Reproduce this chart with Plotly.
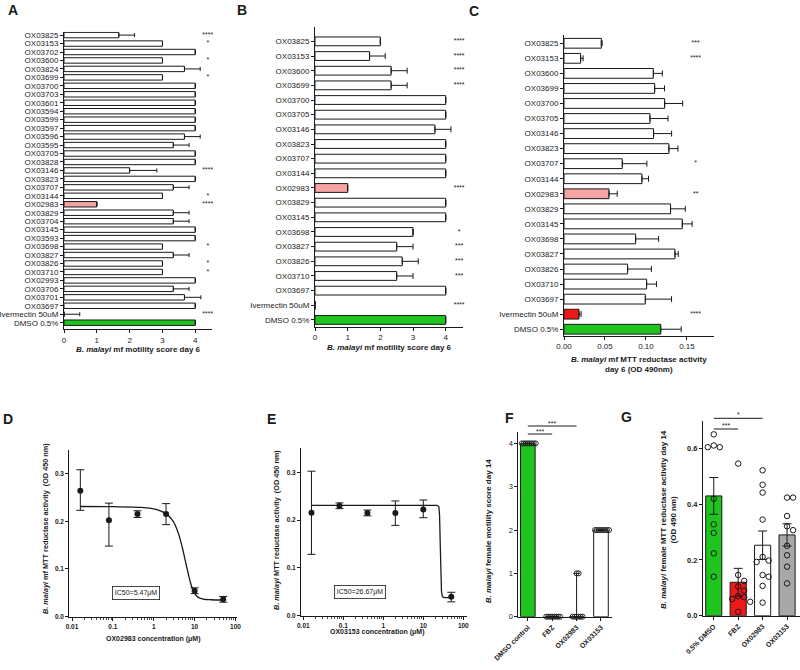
import plotly.graph_objects as go

W, H = 800, 670
FONT = "Liberation Sans, Arial, Helvetica, sans-serif"
INK = "#1a1a1a"
GREEN = "#1fc41f"
PINK = "#f5a3a3"
RED = "#f01818"
GRAY = "#a8a8a8"
WHITE = "#ffffff"

# ---------------- Panel A : mf motility score, day 6 ----------------
A_names = ["OX03825", "OX03153", "OX03702", "OX03600", "OX03824", "OX03699", "OX03700",
           "OX03703", "OX03601", "OX03594", "OX03599", "OX03597", "OX03596", "OX03595",
           "OX03705", "OX03828", "OX03146", "OX03823", "OX03707", "OX03144", "OX02983",
           "OX03829", "OX03704", "OX03145", "OX03593", "OX03698", "OX03827", "OX03826",
           "OX03710", "OX02993", "OX03706", "OX03701", "OX03697", "Ivermectin 50uM", "DMSO 0.5%"]
A_score = [1.67, 3, 4, 3, 3.67, 3, 4, 4, 4, 4, 4, 4, 3.67, 3.33, 4, 4, 2.0, 4, 3.33, 3, 1.0,
           3.33, 3.33, 4, 4, 3, 3.33, 3, 3, 4, 3.33, 3.67, 4, 0, 4]
A_err = [0.48, None, None, None, 0.48, None, None, None, None, None, None, None, 0.48, 0.48,
         None, None, 0.83, None, 0.48, None, None, 0.48, 0.48, None, None, None, 0.48, None,
         None, None, 0.48, 0.5, None, 0.48, None]
A_sig = ["****", "*", "", "*", "", "*", "", "", "", "", "", "", "", "", "", "", "****", "",
         "", "*", "****", "", "", "", "", "*", "", "*", "*", "", "", "", "", "****", ""]

# ---------------- Panel B : mf motility score, day 6 ----------------
B_names = ["OX03825", "OX03153", "OX03600", "OX03699", "OX03700", "OX03705", "OX03146",
           "OX03823", "OX03707", "OX03144", "OX02983", "OX03829", "OX03145", "OX03698",
           "OX03827", "OX03826", "OX03710", "OX03697", "Ivermectin 50uM", "DMSO 0.5%"]
B_score = [2.0, 1.67, 2.33, 2.33, 4, 4, 3.67, 4, 4, 4, 1.0, 4, 4, 3.0, 2.5, 2.67, 2.5, 4, 0, 4]
B_err = [None, 0.48, 0.49, 0.49, None, None, 0.49, None, None, None, None, None, None, None,
         0.5, 0.49, 0.5, None, None, None]
B_sig = ["****", "****", "****", "****", "", "", "", "", "", "", "****", "", "", "*",
         "***", "***", "***", "", "****", ""]

# ---------------- Panel C : mf MTT reductase, day 6 ----------------
C_names = ["OX03825", "OX03153", "OX03600", "OX03699", "OX03700", "OX03705", "OX03146",
           "OX03823", "OX03707", "OX03144", "OX02983", "OX03829", "OX03145", "OX03698",
           "OX03827", "OX03826", "OX03710", "OX03697", "Ivermectin 50uM", "DMSO 0.5%"]
C_od = [0.0455, 0.0203, 0.109, 0.1106, 0.1228, 0.1049, 0.1093, 0.128, 0.0711, 0.0951,
        0.0549, 0.130, 0.1443, 0.0874, 0.1354, 0.0776, 0.1008, 0.0992, 0.0183, 0.118]
C_err = [0.001, 0.003, 0.011, 0.012, 0.022, 0.022, 0.022, 0.011, 0.030, 0.008,
         0.010, 0.018, 0.012, 0.028, 0.004, 0.029, 0.012, 0.032, 0.0025, 0.025]
C_sig = ["***", "****", "", "", "", "", "", "", "*", "", "**", "", "", "", "", "", "", "",
         "****", ""]

# ---------------- Panel D : OX02983 dose response ----------------
D_conc = [0.016, 0.08, 0.4, 2, 10, 50]
D_od = [0.264, 0.202, 0.215, 0.215, 0.0545, 0.0364]
D_up = [0.044, 0.036, 0.007, 0.022, 0.006, 0.006]
D_down = [0.041, 0.054, 0.007, 0.022, 0.006, 0.006]
D_fit_conc = [0.016, 0.1, 0.5, 1, 2, 3, 4, 5, 6, 7, 8, 9, 10, 12, 16, 25, 50]
D_fit_od = [0.231, 0.2305, 0.229, 0.226, 0.216, 0.200, 0.175, 0.145, 0.115, 0.090, 0.070,
            0.057, 0.049, 0.041, 0.037, 0.0355, 0.035]
D_ic50 = "IC50=5.47μM"

# ---------------- Panel E : OX03153 dose response ----------------
E_conc = [0.016, 0.08, 0.4, 2, 10, 50]
E_od = [0.2153, 0.230, 0.215, 0.215, 0.222, 0.0395]
E_up = [0.087, 0.006, 0.006, 0.025, 0.020, 0.0095]
E_down = [0.087, 0.006, 0.006, 0.026, 0.017, 0.0105]
E_fit_conc = [0.016, 22, 24.5, 25.5, 26.5, 27.5, 28.5, 30, 33, 50]
E_fit_od = [0.231, 0.231, 0.228, 0.21, 0.15, 0.08, 0.05, 0.04, 0.038, 0.038]
E_ic50 = "IC50=26.67μM"

# ---------------- Panel F : adult female motility day 14 ----------------
F_groups = ["DMSO control", "FBZ", "OX02983", "OX03153"]
F_median = [4, 0, 0, 2]
F_range_up = [0, 0, 1, 0]
F_points = [[4, 4, 4, 4, 4, 4, 4, 4],
            [0, 0, 0, 0, 0, 0, 0, 0],
            [0, 0, 0, 0, 0, 0, 1, 1],
            [2, 2, 2, 2, 2, 2, 2, 2]]
F_brackets = [(0, 1, "***"), (0, 2, "***")]

# ---------------- Panel G : adult female MTT day 14 ----------------
G_groups = ["0.5% DMSO", "FBZ", "OX02983", "OX03153"]
G_mean = [0.43, 0.12, 0.253, 0.29]
G_sem = [0.066, 0.05, 0.051, 0.040]
G_points = [[0.651, 0.611, 0.605, 0.605, 0.420, 0.328, 0.297, 0.224, 0.140],
            [0.546, 0.146, 0.125, 0.105, 0.09, 0.07, 0.066, 0.06, 0.05, 0.014],
            [0.522, 0.470, 0.442, 0.345, 0.211, 0.198, 0.193, 0.146, 0.140, 0.107, 0.047],
            [0.424, 0.424, 0.358, 0.321, 0.307, 0.251, 0.217, 0.176, 0.116]]
G_brackets = [(0, 2, "*"), (0, 1, "***")]


# ---------------- helpers ----------------
def dx(x0, x1):
    return [x0 / W, x1 / W]


def dy(y0, y1):
    return [1 - y1 / H, 1 - y0 / H]


def tf(size=8, bold=False):
    d = dict(size=size, color=INK, family=FONT)
    if bold:
        d["weight"] = "bold"
    return d


def ax(**kw):
    d = dict(showline=True, linecolor=INK, linewidth=1, ticks="outside", ticklen=3,
             tickwidth=1, tickcolor=INK, showgrid=False, zeroline=False, automargin=False,
             tickfont=tf(8))
    d.update(kw)
    return d


def ann(text, x, y, size=8, angle=0, **kw):
    d = dict(text=text, x=x / W, y=1 - y / H, xref="paper", yref="paper", showarrow=False,
             xanchor="center", yanchor="middle", textangle=angle, font=tf(size))
    d.update(kw)
    return d


def bar_colors(names, red_iver=False):
    out = []
    for n in names:
        if n == "OX02983":
            out.append(PINK)
        elif n.startswith("DMSO"):
            out.append(GREEN)
        elif n.startswith("Ivermectin") and red_iver:
            out.append(RED)
        else:
            out.append(WHITE)
    return out


def swarm(values, px_per_unit, px_per_cat, d):
    order = sorted(range(len(values)), key=lambda i: -values[i])
    placed = []
    offs = [0.0] * len(values)
    cands = [0.0] + [s * j * d for j in range(1, 30) for s in (1, -1)]
    for i in order:
        yv = values[i] * px_per_unit
        for c in cands:
            if all((c - a) ** 2 + (yv - b) ** 2 >= d * d * 0.999 for a, b in placed):
                break
        placed.append((c, yv))
        offs[i] = c / px_per_cat
    return offs


fig = go.Figure()
layout = dict(width=W, height=H, margin=dict(l=0, r=0, t=0, b=0, autoexpand=False),
              showlegend=False, plot_bgcolor="white", paper_bgcolor="white",
              font=dict(family=FONT, size=8, color=INK))
annotations = []
shapes = []


# ---------------- horizontal bar panels A, B, C ----------------
def hbar(names, vals, errs, sigs, k, xdom, ydom, xrange_, yrange_, xticks, xfmt,
         star_x, capw, barw, red_iver=False):
    idx = list(range(len(names)))
    xa, ya = ("x%d" % k, "y%d" % k) if k > 1 else ("x", "y")
    fig.add_trace(go.Bar(
        x=vals, y=idx, orientation="h", width=barw, xaxis=xa, yaxis=ya,
        marker=dict(color=bar_colors(names, red_iver), line=dict(color=INK, width=1)),
        error_x=dict(type="data", symmetric=False,
                     array=[e if e is not None else 0 for e in errs],
                     arrayminus=[0] * len(errs), color=INK, thickness=1, width=capw),
        hoverinfo="skip"))
    fig.add_trace(go.Scatter(
        x=[star_x] * len(idx), y=idx, mode="text", text=sigs, xaxis=xa, yaxis=ya,
        textfont=tf(7), cliponaxis=False, hoverinfo="skip"))
    sfx = "" if k == 1 else str(k)
    layout["xaxis" + sfx] = ax(domain=xdom, range=xrange_, anchor=ya, tickvals=xticks,
                               tickformat=xfmt)
    layout["yaxis" + sfx] = ax(domain=ydom, range=yrange_, anchor=xa, tickvals=idx,
                               ticktext=names)


hbar(A_names, A_score, A_err, A_sig, 1, dx(64, 211.7), dy(31.7, 329.3), [0, 4.5],
     [34.78, -0.4], [0, 1, 2, 3, 4], "d", 4.38, 2, 0.64)
hbar(B_names, B_score, B_err, B_sig, 2, dx(315, 462.7), dy(26.7, 326.7), [0, 4.52],
     [19.46, -1.0], [0, 1, 2, 3, 4], "d", 4.41, 3, 0.6)
hbar(C_names, C_od, C_err, C_sig, 3, dx(564, 714), dy(35, 335.7), [0, 0.183],
     [19.43, -0.55], [0, 0.05, 0.10, 0.15], ".2f", 0.1606, 3, 0.65, red_iver=True)

annotations.append(ann("<b><i>B. malayi</i> mf motility score day 6</b>", 138, 349.5))
annotations.append(ann("<b><i>B. malayi</i> mf motility score day 6</b>", 389, 347.5))
annotations.append(ann("<b><i>B. malayi</i> mf MTT reductase activity<br>day 6 (OD 490nm)</b>",
                       639, 364.5))

# ---------------- dose-response panels D, E ----------------
minor_vals = [m * 10 ** e for e in range(-2, 2) for m in range(2, 10)]


def dose(conc, od, up, down, fit_c, fit_o, k, xdom, ydom, xr, spline):
    xa, ya = "x%d" % k, "y%d" % k
    fig.add_trace(go.Scatter(
        x=fit_c, y=fit_o, mode="lines", xaxis=xa, yaxis=ya, hoverinfo="skip",
        line=dict(color=INK, width=1.3, shape="spline" if spline else "linear")))
    fig.add_trace(go.Scatter(
        x=conc, y=od, mode="markers", xaxis=xa, yaxis=ya, hoverinfo="skip",
        marker=dict(color=INK, size=6),
        error_y=dict(type="data", symmetric=False, array=up, arrayminus=down,
                     color=INK, thickness=1, width=4), cliponaxis=False))
    layout["xaxis%d" % k] = ax(domain=xdom, type="log", range=xr, anchor=ya,
                               tickvals=[0.01, 0.1, 1, 10, 100],
                               ticktext=["0.01", "0.1", "1", "10", "100"],
                               tickfont=tf(6.5, True),
                               minor=dict(ticks="outside", ticklen=2, tickvals=minor_vals,
                                          tickcolor=INK, tickwidth=0.8))
    layout["yaxis%d" % k] = ax(domain=ydom, range=[0, 0.35], anchor=xa,
                               tickvals=[0, 0.1, 0.2, 0.3], tickformat=".1f",
                               tickfont=tf(6.5, True))


dose(D_conc, D_od, D_up, D_down, D_fit_conc, D_fit_od, 4, dx(69.3, 236.7),
     dy(449.7, 616.7), [-2.066, 2.03], True)
dose(E_conc, E_od, E_up, E_down, E_fit_conc, E_fit_od, 5, dx(301, 466.7),
     dy(448.4, 615.7), [-2.058, 2.085], False)

annotations.append(ann("<b>OX02983 concentration (μM)</b>", 153, 639, size=7))
annotations.append(ann("<b>OX03153 concentration (μM)</b>", 377, 632, size=7))
annotations.append(ann("<b><i>B. malayi</i> mf MTT reductase activity  (OD 450 nm)</b>",
                       45, 529, size=7.3, angle=-90))
annotations.append(ann("<b><i>B. malayi</i> MTT reductase activity  (OD 450 nm)</b>",
                       276, 530, size=7.3, angle=-90))
annotations.append(ann(D_ic50, 136.3, 592.5, size=7, bordercolor=INK, borderwidth=0.8,
                       borderpad=2))
annotations.append(ann(E_ic50, 360.3, 592.2, size=7, bordercolor=INK, borderwidth=0.8,
                       borderpad=2))

# ---------------- panel F ----------------
F_x0, F_x1, F_r = 518.3, 611.7, [-0.39, 3.44]
F_y0, F_y1, F_yr = 431.7, 616.7, [0, 4.27]
F_cat_px = (F_x1 - F_x0) / (F_r[1] - F_r[0])
F_unit_px = (F_y1 - F_y0) / (F_yr[1] - F_yr[0])
fig.add_trace(go.Bar(
    x=list(range(4)), y=F_median, width=0.6, xaxis="x6", yaxis="y6", hoverinfo="skip",
    marker=dict(color=[GREEN, WHITE, WHITE, WHITE], line=dict(color=INK, width=1)),
    error_y=dict(type="data", symmetric=False, array=F_range_up, arrayminus=[0] * 4,
                 color=INK, thickness=1, width=3)))
fx, fy = [], []
for gi, pts in enumerate(F_points):
    offs = swarm(pts, F_unit_px, F_cat_px, 2.0)
    fx += [gi + o for o in offs]
    fy += pts
fig.add_trace(go.Scatter(
    x=fx, y=fy, mode="markers", xaxis="x6", yaxis="y6", hoverinfo="skip", cliponaxis=False,
    marker=dict(symbol="circle-open", size=5, color=INK, line=dict(width=0.9))))
layout["xaxis6"] = ax(domain=dx(F_x0, F_x1), range=F_r, anchor="y6", tickvals=list(range(4)),
                      ticktext=F_groups, tickangle=-45, tickfont=tf(7, True))
layout["yaxis6"] = ax(domain=dy(F_y0, F_y1), range=F_yr, anchor="x6",
                      tickvals=[0, 1, 2, 3, 4], tickfont=tf(7.5))
annotations.append(ann("<b><i>B. malayi</i> female motility score day 14</b>", 488.3, 531,
                       size=8, angle=-90))


def fcat(i):
    return F_x0 + (i - F_r[0]) * F_cat_px


for (a, b, s), yl in zip(F_brackets, [434, 426]):
    shapes.append(dict(type="line", xref="paper", yref="paper", x0=fcat(a) / W,
                       x1=fcat(b) / W, y0=1 - yl / H, y1=1 - yl / H,
                       line=dict(color=INK, width=1)))
    annotations.append(ann(s, (fcat(a) + fcat(b)) / 2, yl - 3, size=7))

# ---------------- panel G ----------------
G_x0, G_x1, G_r = 703, 800, [-0.44, 3.53]
G_y0, G_y1, G_yr = 420.7, 615.7, [0, 0.7]
G_cat_px = (G_x1 - G_x0) / (G_r[1] - G_r[0])
G_unit_px = (G_y1 - G_y0) / (G_yr[1] - G_yr[0])
fig.add_trace(go.Bar(
    x=list(range(4)), y=G_mean, width=0.66, xaxis="x7", yaxis="y7", hoverinfo="skip",
    marker=dict(color=[GREEN, RED, WHITE, GRAY], line=dict(color=INK, width=1)),
    error_y=dict(type="data", array=G_sem, color=INK, thickness=1, width=4.5)))
gx, gy = [], []
for gi, pts in enumerate(G_points):
    offs = swarm(pts, G_unit_px, G_cat_px, 6.0)
    gx += [gi + o for o in offs]
    gy += pts
fig.add_trace(go.Scatter(
    x=gx, y=gy, mode="markers", xaxis="x7", yaxis="y7", hoverinfo="skip", cliponaxis=False,
    marker=dict(symbol="circle-open", size=5.5, color=INK, line=dict(width=1))))
layout["xaxis7"] = ax(domain=dx(G_x0, G_x1), range=G_r, anchor="y7", tickvals=list(range(4)),
                      ticktext=G_groups, tickangle=-45, tickfont=tf(7, True))
layout["yaxis7"] = ax(domain=dy(G_y0, G_y1), range=G_yr, anchor="x7",
                      tickvals=[0, 0.2, 0.4, 0.6], tickformat=".1f", tickfont=tf(7.5, True))
annotations.append(ann("<b><i>B. malayi</i> female MTT reductase activity day 14<br>(OD 490 nm)</b>",
                       668, 520, size=8, angle=-90))


def gcat(i):
    return G_x0 + (i - G_r[0]) * G_cat_px


for (a, b, s), yl in zip(G_brackets, [418.3, 429]):
    shapes.append(dict(type="line", xref="paper", yref="paper", x0=gcat(a) / W,
                       x1=gcat(b) / W, y0=1 - yl / H, y1=1 - yl / H,
                       line=dict(color=INK, width=1)))
    annotations.append(ann(s, (gcat(a) + gcat(b)) / 2, yl - 3.5, size=7))

# ---------------- panel letters ----------------
for letter, x, y in [("A", 12.5, 10), ("B", 241.5, 10), ("C", 473.5, 11), ("D", 8, 419),
                     ("E", 271, 419), ("F", 509, 418), ("G", 626, 417)]:
    annotations.append(ann("<b>%s</b>" % letter, x, y, size=14))

layout["annotations"] = annotations
layout["shapes"] = shapes
fig.update_layout(**layout)
fig.write_html("out.html", config={"displayModeBar": False, "staticPlot": True},
               post_script="document.body.style.margin='0px';"
                           "document.body.style.overflow='hidden';")
